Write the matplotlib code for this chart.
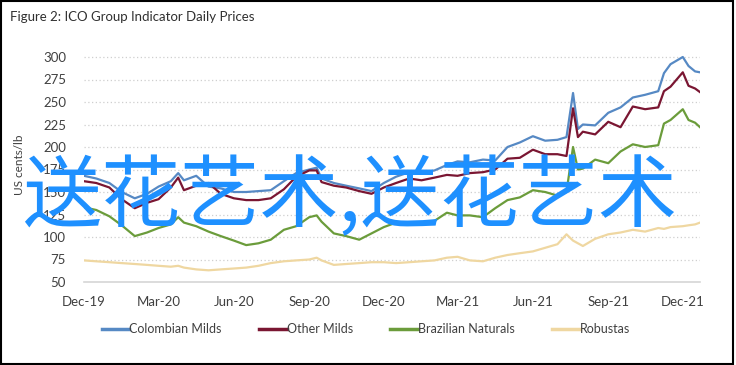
import pandas as pd
import matplotlib.pyplot as plt
from matplotlib.patches import Rectangle

# dates of the sampled points (roughly semi-monthly, extra points around the spikes)
dates = [
    "2019-12-01", "2019-12-16", "2020-01-01", "2020-01-16", "2020-02-01", "2020-02-16",
    "2020-03-01", "2020-03-16", "2020-03-25", "2020-04-01", "2020-04-16", "2020-05-01",
    "2020-05-16", "2020-06-01", "2020-06-16", "2020-07-01", "2020-07-16", "2020-08-01",
    "2020-08-16", "2020-09-01", "2020-09-10", "2020-09-16", "2020-10-01", "2020-10-16",
    "2020-11-01", "2020-11-16", "2020-12-01", "2020-12-16", "2021-01-01", "2021-01-16",
    "2021-02-01", "2021-02-16", "2021-03-01", "2021-03-16", "2021-04-01", "2021-04-16",
    "2021-05-01", "2021-05-16", "2021-06-01", "2021-06-16", "2021-07-01", "2021-07-12",
    "2021-07-20", "2021-07-26", "2021-08-01", "2021-08-16", "2021-09-01", "2021-09-16",
    "2021-10-01", "2021-10-16", "2021-11-01", "2021-11-08", "2021-11-16", "2021-12-01",
    "2021-12-08", "2021-12-16", "2021-12-22",
]

colombian = [168, 165, 160, 150, 143, 148, 156, 162, 171, 163, 168, 156,
             154, 150, 150, 151, 152, 162, 171, 175, 177, 165, 160, 157,
             154, 151, 160, 167, 172, 171, 174, 180, 184, 183, 186, 185,
             200, 205, 212, 207, 208, 211, 260, 220, 225, 224, 238, 244,
             255, 258, 262, 282, 292, 300, 290, 284, 283]

other = [162, 160, 155, 142, 132, 138, 142, 155, 166, 152, 157, 160,
         148, 143, 141, 141, 143, 153, 167, 174, 174, 161, 157, 155,
         151, 148, 155, 160, 165, 163, 166, 169, 168, 171, 172, 175,
         187, 188, 197, 192, 192, 190, 243, 211, 217, 214, 228, 222,
         245, 242, 244, 262, 267, 283, 268, 265, 261]

brazilian = [133, 130, 123, 113, 101, 105, 110, 114, 122, 116, 112, 106,
             101, 96, 91, 93, 97, 108, 112, 122, 124, 117, 104, 101,
             97, 104, 111, 116, 114, 116, 118, 127, 124, 124, 122, 132,
             141, 144, 152, 150, 146, 150, 200, 175, 176, 186, 182, 195,
             203, 200, 202, 226, 230, 242, 230, 227, 222]

robustas = [74, 73, 72, 71, 70, 69, 68, 67, 68, 66, 64, 63,
            64, 65, 66, 68, 71, 73, 74, 75, 77, 74, 69, 70,
            71, 72, 72, 71, 72, 73, 74, 77, 78, 74, 73, 77,
            80, 82, 84, 88, 92, 103, 96, 93, 90, 98, 103, 105,
            108, 106, 110, 109, 111, 112, 113, 114, 116]

series = ["Colombian Milds", "Other Milds", "Brazilian Naturals", "Robustas"]
colors = ["#5689C4", "#7A1632", "#6B9C3B", "#EFD7A1"]
yticks = [50, 75, 100, 125, 150, 175, 200, 225, 250, 275, 300]
xtick_dates = ["2019-12-01", "2020-03-01", "2020-06-01", "2020-09-01", "2020-12-01",
               "2021-03-01", "2021-06-01", "2021-09-01", "2021-12-01"]

x = pd.to_datetime(dates)
values = [colombian, other, brazilian, robustas]

font = ["Lato", "DejaVu Sans"]
txt = "#404040"

fig = plt.figure(figsize=(7.36, 3.65), dpi=100)
ax = fig.add_axes([84 / 736, 1 - 282 / 365, 616 / 736, 234 / 365])

for name, vals, c in zip(series, values, colors):
    ax.plot(x, vals, color=c, lw=1.6, label=name)

ax.set_ylim(50, 310)
ax.set_xlim(x[0], x[-1])
ax.set_yticks(yticks)
ax.set_yticklabels([str(v) for v in yticks], family=font, fontsize=9.5, color=txt)
xt = pd.to_datetime(xtick_dates)
ax.set_xticks(xt)
ax.set_xticklabels([d.strftime("%b-%y") for d in xt], family=font, fontsize=9.5, color=txt)
ax.tick_params(length=0, pad=13)
ax.tick_params(axis="x", pad=10)

for v in yticks[1:]:
    ax.axhline(v, color="#cfcfcf", lw=0.9, ls=(0, (1, 2)), zorder=0)
for s in ["top", "right", "left"]:
    ax.spines[s].set_visible(False)
ax.spines["bottom"].set_color("#d6d6d6")
ax.spines["bottom"].set_linewidth(1.2)

ax.set_ylabel("US cents/lb", family=font, fontsize=8.5, color=txt)
ax.yaxis.set_label_coords(-0.095, 0.5)

fig.text(10 / 736, 1 - 17 / 365, "Figure 2: ICO Group Indicator Daily Prices",
         family=font, fontsize=9.5, color="#303030", va="center")

leg = fig.legend(loc="center", bbox_to_anchor=(0.497, 1 - 329 / 365), ncol=4,
                 frameon=False, handlelength=2.2, handletextpad=0.0, columnspacing=3.0,
                 prop={"family": font, "size": 9})
for t in leg.get_texts():
    t.set_color(txt)
for h in leg.get_lines():
    h.set_linewidth(2.5)

# watermark over the chart
fig.text(22 / 736, 1 - 198 / 365, "送花艺术,送花艺术", family=["Noto Sans CJK SC", "DejaVu Sans"],
         fontsize=57, color="#1E90FF", va="center", ha="left", zorder=10)

fig.patches.append(Rectangle((0.001, 0.004), 0.995, 0.993, transform=fig.transFigure,
                             fill=False, edgecolor="black", lw=1.5))

fig.savefig("out.png", dpi=100)
